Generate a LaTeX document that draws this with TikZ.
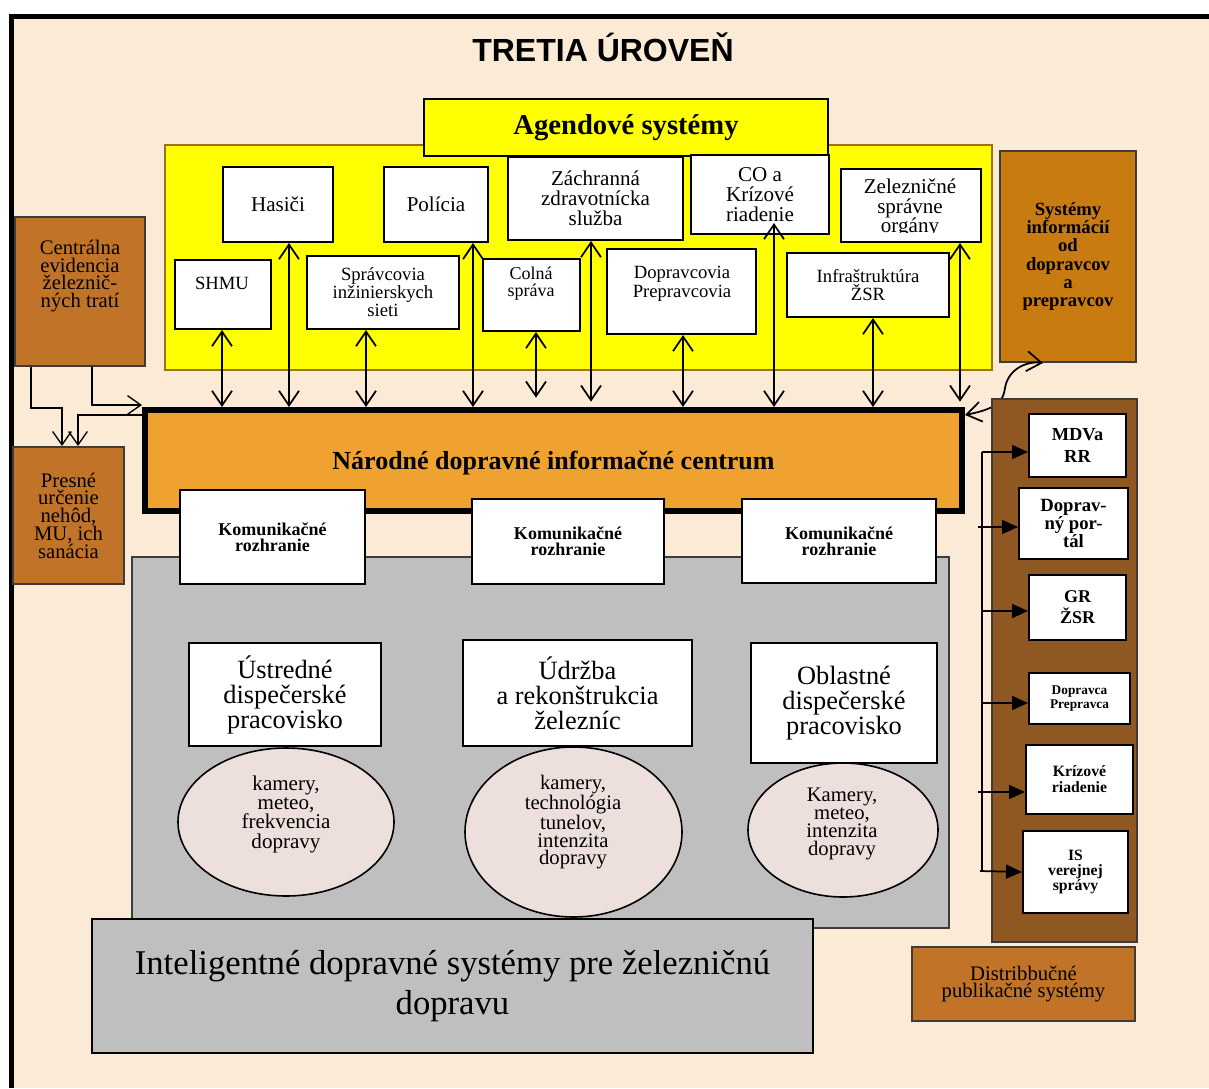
\documentclass[tikz,border=0pt]{standalone}
\usepackage{fontspec}
\setmainfont{Liberation Serif}
\setsansfont{Liberation Sans}
\usetikzlibrary{arrows.meta,shapes.geometric}

\definecolor{beige}{RGB}{251,234,214}
\definecolor{agyellow}{RGB}{255,255,0}
\definecolor{yellowedge}{RGB}{160,112,24}
\definecolor{ndicorange}{RGB}{239,162,48}
\definecolor{lightbrown}{RGB}{193,115,40}
\definecolor{ochre}{RGB}{199,123,16}
\definecolor{darkbrown}{RGB}{143,88,34}
\definecolor{boxgray}{RGB}{191,191,191}
\definecolor{pinkish}{RGB}{237,224,220}
\definecolor{edgegray}{RGB}{60,60,60}

\newcommand{\fsz}[2]{\fontsize{#1}{#2}\selectfont}

\tikzset{
  wbox/.style 2 args={draw=black, fill=white, line width=1.5pt, inner sep=0pt,
    minimum width=#1*0.75pt, minimum height=#2*0.75pt},
  txt/.style={inner sep=0pt, align=center},
  dbl/.style={{Straight Barb[length=11pt,width=15pt]}-{Straight Barb[length=11pt,width=15pt]}, line width=1.3pt},
  barb/.style={-{Straight Barb[length=10pt,width=14pt]}, line width=1pt},
  pub/.style={-{Triangle[length=12pt,width=10.5pt]}, line width=1.3pt},
}

\begin{document}
\begin{tikzpicture}[x=0.75pt,y=0.75pt,yscale=-1,xscale=1]
        \useasboundingbox (0,0) rectangle (1209,1088);
        \fill[white] (0,0) rectangle (1209,1088);

        %Shape: page frame
        \fill[beige] (12,16) rectangle (1209,1088);
        \draw[line width=3.75pt] (11.5,1088) -- (11.5,16.5) -- (1209,16.5);

        % Text Node
        \node[txt, font=\sffamily\bfseries\fsz{24}{28}] (title) at (603,47) {TRETIA ÚROVEŇ};

        %Shape: Agendove systemy
        \node[draw=yellowedge, fill=agyellow, line width=1.5pt, inner sep=0pt, minimum width=827*0.75pt, minimum height=225*0.75pt] (agzone) at (578.5,257.5) {};
        \node[wbox={404}{57}, fill=agyellow, font=\bfseries\fsz{21.5}{24}] (agenda) at (626,127.5) {Agendové systémy};

        \node[wbox={110}{75}, font=\fsz{15.8}{15}] (hasici) at (278,204.5) {Hasiči};
        \node[wbox={104}{75}, font=\fsz{15.8}{15}] (policia) at (436,204.5) {Polícia};
        \node[wbox={175}{83}, font=\fsz{15.8}{15}, align=center] (zachr) at (595.5,198.5) {Záchranná\\zdravotnícka\\služba};
        \node[wbox={138}{79}, font=\fsz{15.8}{15}, align=center] (co) at (760,194.5) {CO a\\Krízové\\riadenie};
        \node[wbox={140}{73}] (zso) at (911,205.5) {};
        \begin{scope}
          \clip (841,169) rectangle (981,232);
          \node[txt, font=\fsz{15.8}{14.6}] (zsotext) at (910,208) {Zelezničné\\správne\\orgány};
        \end{scope}

        \node[wbox={96}{69}] (shmu) at (223,294.5) {};
        \node[txt, font=\fsz{14}{13.5}] (shmutext) at (222,283) {SHMU};
        \node[wbox={152}{73}, font=\fsz{14}{13.5}, align=center] (sprav) at (383,292.5) {Správcovia\\inžinierskych\\sieti};
        \node[wbox={97}{72}] (colna) at (531.5,295) {};
        \node[txt, font=\fsz{13.5}{12.75}] (colnatext) at (531,284) {Colná\\správa};
        \node[wbox={149}{85}] (doprav) at (681.5,291.5) {};
        \node[txt, font=\fsz{14}{14.5}] (dopravtext) at (682,284) {Dopravcovia\\Prepravcovia};
        \node[wbox={162}{64}, font=\fsz{14}{13.5}, align=center] (infra) at (868,285) {Infraštruktúra\\ŽSR};

        %Shape: Narodne dopravne informacne centrum
        \node[draw=black, fill=ndicorange, line width=4.5pt, inner sep=0pt, text depth=0pt, minimum width=817*0.75pt, minimum height=101*0.75pt, font=\bfseries\fsz{19.5}{22}] (ndic) at (553.5,460.5) {Národné dopravné informačné centrum};

        % agenda <-> ndic
        \draw[dbl] (222,0 |- shmu.south) -- (222,0 |- ndic.north);
        \draw[dbl] (289,0 |- hasici.south) -- (289,0 |- ndic.north);
        \draw[dbl] (366,0 |- sprav.south) -- (366,0 |- ndic.north);
        \draw[dbl] (473,0 |- policia.south) -- (473,0 |- ndic.north);
        \draw[dbl, shorten >=7pt] (536,0 |- colna.south) -- (536,0 |- ndic.north);
        \draw[dbl, shorten >=4pt] (591,0 |- zachr.south) -- (591,0 |- ndic.north);
        \draw[dbl] (683,0 |- doprav.south) -- (683,0 |- ndic.north);
        \draw[dbl, shorten <=-9pt] (774,0 |- co.south) -- (774,0 |- ndic.north);
        \draw[dbl] (873,0 |- infra.south) -- (873,0 |- ndic.north);
        \draw[dbl, shorten >=4pt] (960,0 |- zso.south) -- (960,0 |- ndic.north);

        %Shape: gray area
        \node[draw=edgegray, fill=boxgray, line width=1pt, inner sep=0pt, minimum width=817*0.75pt, minimum height=371*0.75pt] (ids) at (540.5,742.5) {};

        \node[wbox={185}{94}, font=\bfseries\fsz{13.5}{12}, align=center] (kom1) at (272.5,537) {Komunikačné\\rozhranie};
        \node[wbox={192}{85}, font=\bfseries\fsz{13.5}{12}, align=center] (kom2) at (568,541.5) {Komunikačné\\rozhranie};
        \node[wbox={194}{84}, font=\bfseries\fsz{13.5}{12}, align=center] (kom3) at (839,541) {Komunikačné\\rozhranie};

        \node[wbox={192}{103}, font=\fsz{19.8}{18.75}, align=center] (ustr) at (285,694.5) {Ústredné\\dispečerské\\pracovisko};
        \node[wbox={229}{106}, font=\fsz{19.8}{18.75}, align=center] (udrz) at (577.5,693) {Údržba\\a rekonštrukcia\\železníc};
        \node[wbox={186}{120}, font=\fsz{19.8}{18.75}, align=center] (obl) at (844,703) {Oblastné\\dispečerské\\pracovisko};

        %Shape: Ellipse
        \node[ellipse, draw=black, fill=pinkish, line width=1.2pt, inner sep=0pt, minimum width=216*0.75pt, minimum height=148*0.75pt] (el1) at (286,822) {};
        \node[txt, font=\fsz{15.8}{14.5}] (el1text) at (286,814) {kamery,\\meteo,\\frekvencia\\dopravy};
        \node[ellipse, draw=black, fill=pinkish, line width=1.2pt, inner sep=0pt, minimum width=217*0.75pt, minimum height=170*0.75pt] (el2) at (573.5,832) {};
        \node[txt, font=\fsz{15.5}{13.3}] (el2text) at (573,822) {kamery,\\technológia\\tunelov,\\intenzita\\dopravy};
        \node[ellipse, draw=black, fill=pinkish, line width=1.2pt, inner sep=0pt, minimum width=190*0.75pt, minimum height=134*0.75pt] (el3) at (843,830) {};
        \node[txt, font=\fsz{15.5}{13.3}] (el3text) at (842,824) {Kamery,\\meteo,\\intenzita\\dopravy};

        \node[draw=black, fill=boxgray, line width=1.5pt, inner sep=0pt, minimum width=721*0.75pt, minimum height=134*0.75pt, font=\fsz{26}{30}, align=center] (itsrail) at (452.5,986) {Inteligentné dopravné systémy pre železničnú\\dopravu};

        %Shape: left side
        \node[draw=edgegray, fill=lightbrown, line width=1.5pt, inner sep=0pt, minimum width=130*0.75pt, minimum height=149*0.75pt] (cent) at (80,291.5) {};
        \node[txt, font=\fsz{15.5}{13.3}] (centtext) at (80,276) {Centrálna\\evidencia\\železnič-\\ných tratí};
        \node[draw=edgegray, fill=lightbrown, line width=1.5pt, inner sep=0pt, minimum width=111*0.75pt, minimum height=137*0.75pt, font=\fsz{15.5}{13.3}, align=center] (presne) at (68.5,515.5) {Presné\\určenie\\nehôd,\\MU, ich\\sanácia};

        \draw[barb] (31,0 |- cent.south) |- (62,408) -- (62,0 |- presne.north);
        \draw[barb] (92,0 |- cent.south) |- (ndic.west |- 0,405);
        \draw[barb] (ndic.west |- 0,415) -| (78,0 |- presne.north);

        %Shape: right side
        \node[draw=edgegray, fill=ochre, line width=1.5pt, inner sep=0pt, minimum width=136*0.75pt, minimum height=211*0.75pt, font=\bfseries\fsz{14}{13.7}, align=center] (sysinf) at (1068,256.5) {Systémy\\informácií\\od\\dopravcov\\a\\prepravcov};
        \draw[dbl] (ndic.east |- 0,415) .. controls (1000,408) and (1003,400) .. (1005,388) .. controls (1008,370) and (1025,361) .. (1043,0 |- sysinf.south);

        \node[draw=edgegray, fill=darkbrown, line width=1.5pt, inner sep=0pt, minimum width=145*0.75pt, minimum height=543*0.75pt] (pubcol) at (1064.5,670.5) {};
        \node[wbox={97}{63}, font=\bfseries\fsz{13.8}{16.5}, align=center] (mdva) at (1077.5,445.5) {MDVa\\RR};
        \node[wbox={109}{71}, font=\bfseries\fsz{14}{13.5}, align=center] (portal) at (1073.5,523.5) {Doprav-\\ný por-\\tál};
        \node[wbox={97}{65}, font=\bfseries\fsz{13.5}{15.75}, align=center] (grzsr) at (1077.5,607.5) {GR\\ŽSR};
        \node[wbox={101}{51}, font=\bfseries\fsz{10}{11}, align=center] (dopprep) at (1079.5,698.5) {Dopravca\\Prepravca};
        \node[wbox={107}{69}, font=\bfseries\fsz{11.8}{12}, align=center] (kriz) at (1079.5,779.5) {Krízové\\riadenie};
        \node[wbox={105}{82}, font=\bfseries\fsz{11.8}{11.5}, align=center] (isvs) at (1075.5,872) {IS\\verejnej\\správy};

        \coordinate (trunk) at (982,452);
        \draw[line width=1.3pt] (trunk) -- (982,872);
        \draw[pub] (trunk) -- (mdva.west |- 0,452);
        \draw[pub] (978,527) -- (portal.west |- 0,527);
        \draw[pub] (trunk |- 0,611) -- (grzsr.west |- 0,611);
        \draw[pub] (trunk |- 0,703) -- (dopprep.west |- 0,703);
        \draw[pub] (978,792) -- (kriz.west |- 0,792);
        \draw[pub] (980,871) -- (isvs.west |- 0,872);

        \node[draw=edgegray, fill=lightbrown, line width=1.5pt, inner sep=0pt, minimum width=223*0.75pt, minimum height=74*0.75pt, font=\fsz{15.5}{13.3}, align=center] (distr) at (1023.5,984) {Distribbučné\\publikačné systémy};

\end{tikzpicture}
\end{document}
